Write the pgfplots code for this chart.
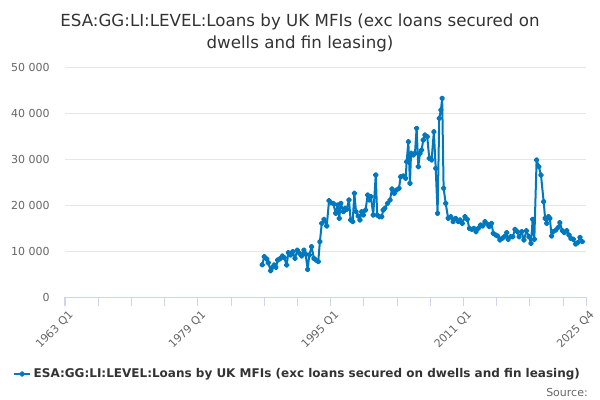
\documentclass[border=0pt]{standalone}
\usepackage{pgfplots}
\pgfplotsset{compat=1.18}
\usepackage{fontspec}
\setmainfont{DejaVu Sans}
\definecolor{serblue}{HTML}{0078C0}
\definecolor{titlec}{HTML}{333333}
\definecolor{tickc}{HTML}{666666}
\definecolor{gridc}{HTML}{E6E6E6}
\definecolor{axisc}{HTML}{CCD6EB}
\begin{document}
\begin{tikzpicture}[x=1pt,y=1pt]
\path[use as bounding box] (0,0) rectangle (450,300);
\node[text=titlec,font=\fontsize{12.5pt}{15pt}\selectfont,anchor=center] at (225,283.5) {ESA:GG:LI:LEVEL:Loans by UK MFIs (exc loans secured on};
\node[text=titlec,font=\fontsize{12.5pt}{15pt}\selectfont,anchor=center] at (225,267) {dwells and fin leasing)};
\node[text=tickc,font=\fontsize{8.25pt}{10pt}\selectfont,anchor=east,inner sep=0pt] at (441,6) {Source:};
\begin{axis}[
  at={(48.75pt,77.25pt)}, anchor=origin,
  scale only axis, width=390.75pt, height=172.5pt,
  xmin=0, xmax=251, ymin=0, ymax=50000,
  scaled y ticks=false,
  axis x line*=bottom, axis y line*=left,
  x axis line style={-,color=axisc,line width=0.75pt},
  y axis line style={draw=none},
  ytick={0,10000,20000,30000,40000,50000},
  yticklabels={0,10 000,20 000,30 000,40 000,50 000},
  ytick style={draw=none},
  ymajorgrids, grid style={color=gridc,line width=0.75pt},
  xtick={0,64,128,192},
  xticklabels={1963 Q1,1979 Q1,1995 Q1,2011 Q1},
  minor xtick={16,32,48,80,96,112,144,160,176,208,224,240},
  extra x ticks={251}, extra x tick labels={2025 Q4},
  extra x tick style={grid=none},
  xtick align=outside, major tick length=6.5pt, minor tick length=6.5pt,
  xtick style={color=axisc,line width=0.75pt},
  minor x tick style={color=axisc,line width=0.75pt},
  tick label style={text=tickc,font=\fontsize{8.25pt}{10pt}\selectfont},
  yticklabel style={anchor=east,inner sep=0pt,xshift=-11.25pt},
  xticklabel style={rotate=45,anchor=north east,inner sep=0pt,xshift=-0.5pt,yshift=-3.5pt},
  legend style={at={(0.447,-0.335)},anchor=center,draw=none,fill=none,
    font=\bfseries\fontsize{9pt}{11pt}\selectfont,text=titlec,inner sep=0pt},
  legend image code/.code={\draw[mark repeat=2,mark phase=2] plot coordinates {(0cm,0cm) (0.21cm,0cm) (0.42cm,0cm)};},
  clip=false,
]
\addplot[color=serblue,line width=1.5pt,mark=*,mark size=1.4pt,line join=round] coordinates {
(95.0,7000) (96.0,8760) (97.2,8260) (97.9,7460) (99.1,5720) (99.9,6450) (100.8,6960) (101.6,6450)
(102.5,8040) (103.6,8330) (104.7,8910) (105.6,8550) (106.8,6960) (107.6,9640) (108.7,9130) (109.7,9860)
(110.8,8400) (111.9,10200) (112.9,9500) (114.0,8900) (115.1,10200) (115.9,9350) (116.9,6000) (117.7,9130)
(118.8,10940) (119.9,8400) (120.9,8040) (122.0,7680) (122.8,12030) (123.7,16000) (124.8,16880) (126.1,15430)
(127.2,20940) (128.1,20500) (129.2,20360) (130.4,18190) (131.4,20000) (132.1,17100) (132.9,20360) (134.1,18550)
(134.9,19280) (135.7,19060) (136.8,21090) (137.6,16740) (138.6,16380) (139.4,22540) (140.2,18550) (141.3,17600)
(142.1,16740) (142.9,18550) (143.7,17830) (144.8,18910) (145.8,22170) (146.6,21090) (147.4,21810) (148.5,17830)
(149.7,26520) (150.4,17830) (151.4,17460) (152.6,17460) (153.3,18910) (154.1,19280) (155.4,20360) (156.6,21090)
(157.5,23500) (158.6,22540) (159.8,23260) (160.9,23630) (161.7,26160) (163.0,26300) (164.1,25800) (164.6,29420)
(165.4,33760) (166.2,24720) (166.7,31240) (167.8,30870) (168.6,31240) (169.4,36670) (170.2,28330) (171.0,31240)
(171.8,31960) (172.6,34130) (173.4,35220) (174.5,34850) (175.5,30150) (176.6,29780) (177.7,35940) (178.6,27970)
(179.5,18190) (180.3,38850) (181.1,40650) (181.7,43190) (182.4,23630) (183.4,20360) (184.6,17100) (185.9,17460)
(187.0,16380) (188.2,17100) (189.5,16380) (190.3,16740) (191.4,16010) (192.7,17460) (193.8,16880) (194.8,14930)
(195.9,14710) (197.0,14930) (198.0,14200) (199.1,14930) (200.2,15650) (201.2,15430) (202.3,16380) (203.4,15870)
(204.4,15290) (205.5,16010) (206.3,13840) (207.5,13480) (208.4,13260) (209.5,12390) (210.6,12750) (211.6,13110)
(212.8,13990) (213.5,12540) (214.7,13110) (215.7,13110) (216.8,14710) (217.9,14200) (218.8,13110) (220.0,14200)
(221.1,12390) (222.3,14400) (223.5,13110) (224.5,11670) (225.3,16880) (226.1,12540) (227.2,29780) (228.3,28330)
(229.3,26520) (230.6,20720) (231.3,17100) (232.1,16000) (232.9,17460) (233.6,17100) (234.4,13260) (235.2,14200)
(236.5,14570) (237.6,15140) (238.4,16160) (239.6,14420) (240.5,13990) (241.7,14420) (242.8,13480) (243.7,12750)
(244.9,12540) (246.0,11520) (247.0,11810) (248.1,12970) (249.2,12030)
};
\addlegendentry{ESA:GG:LI:LEVEL:Loans by UK MFIs (exc loans secured on dwells and fin leasing)}
\end{axis}
\end{tikzpicture}
\end{document}
